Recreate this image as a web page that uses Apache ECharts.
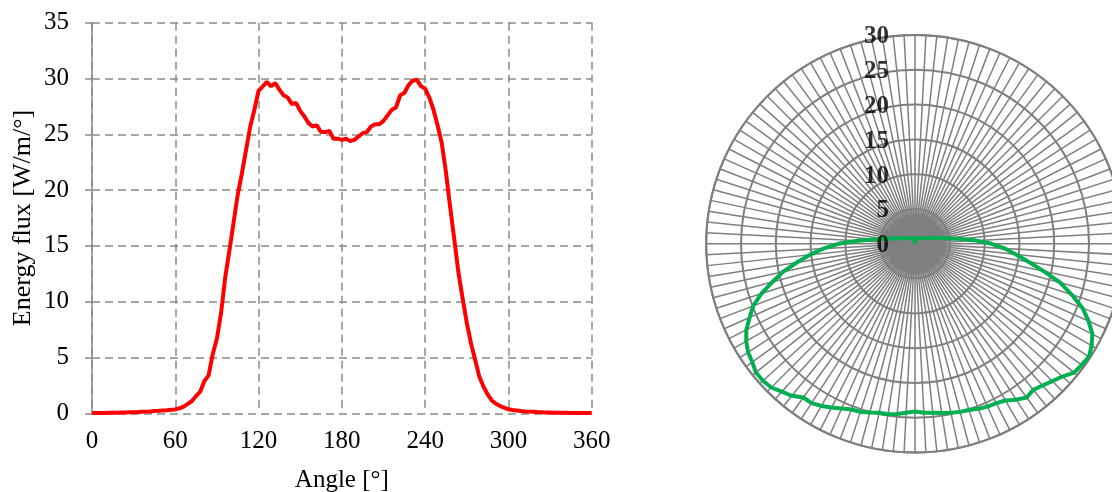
<!DOCTYPE html>
<html>
<head>
<meta charset="utf-8">
<script src="https://cdn.jsdelivr.net/npm/echarts@6/dist/echarts.min.js"></script>
<style>
  html, body { margin: 0; padding: 0; background: #ffffff; }
  #chart { width: 1112px; height: 492px; }
</style>
</head>
<body>
<div id="chart"></div>
<script>
// Sampling angles in degrees (3° steps, 0–360)
const angles = [
  0, 3, 6, 9, 12, 15, 18, 21, 24, 27, 30, 33, 36, 39, 42, 45, 48, 51, 54, 57,
  60, 63, 66, 69, 72, 75, 78, 81, 84, 87, 90, 93, 96, 99, 102, 105, 108, 111, 114, 117,
  120, 123, 126, 129, 132, 135, 138, 141, 144, 147, 150, 153, 156, 159, 162, 165, 168, 171, 174, 177,
  180, 183, 186, 189, 192, 195, 198, 201, 204, 207, 210, 213, 216, 219, 222, 225, 228, 231, 234, 237,
  240, 243, 246, 249, 252, 255, 258, 261, 264, 267, 270, 273, 276, 279, 282, 285, 288, 291, 294, 297,
  300, 303, 306, 309, 312, 315, 318, 321, 324, 327, 330, 333, 336, 339, 342, 345, 348, 351, 354, 357,
  360
];

// Energy flux per angle [W/m/°] (Cartesian plot)
const flux = [
  0.02, 0.02, 0.03, 0.03, 0.04, 0.05, 0.06, 0.07, 0.08, 0.09, 0.10, 0.11, 0.13, 0.15, 0.17, 0.20, 0.22, 0.25, 0.28, 0.32,
  0.35, 0.45, 0.60, 0.85, 1.10, 1.55, 1.95, 2.90, 3.40, 5.30, 6.70, 9.00, 12.2, 14.6, 17.1, 19.6, 21.5, 23.6, 25.7, 27.2,
  28.9, 29.3, 29.7, 29.3, 29.6, 29.0, 28.5, 28.3, 27.7, 27.8, 27.1, 26.6, 26.0, 25.7, 25.8, 25.2, 25.2, 25.3, 24.6, 24.6,
  24.5, 24.6, 24.4, 24.5, 24.8, 25.1, 25.2, 25.7, 25.9, 25.9, 26.2, 26.7, 27.2, 27.4, 28.5, 28.7, 29.4, 29.8, 29.9, 29.3,
  29.1, 28.3, 27.2, 25.8, 24.2, 21.6, 18.5, 15.6, 12.6, 10.3, 8.10, 6.30, 4.80, 3.30, 2.40, 1.70, 1.15, 0.85, 0.65, 0.50,
  0.36, 0.30, 0.25, 0.20, 0.17, 0.15, 0.13, 0.11, 0.10, 0.08, 0.07, 0.06, 0.05, 0.05, 0.04, 0.03, 0.03, 0.03, 0.02, 0.02,
  0.02
];

// Energy flux per angle [W/m/°] (polar plot, closed at 360° = 0°)
const polarFlux = [
  0.00, 0.50, 0.70, 0.80, 0.80, 0.85, 0.85, 0.90, 0.90, 0.90, 0.95, 1.00, 1.00, 1.05, 1.10, 1.15, 1.20, 1.30, 1.40, 1.50,
  1.65, 1.85, 2.05, 2.35, 2.70, 3.20, 3.90, 5.00, 6.60, 8.80, 11.0, 12.9, 14.6, 16.5, 18.9, 21.6, 23.7, 25.8, 27.3, 28.6,
  29.3, 29.8, 29.6, 29.4, 28.5, 27.9, 27.4, 27.0, 27.3, 26.7, 26.0, 25.7, 25.6, 25.4, 25.1, 25.0, 24.8, 24.6, 24.4, 24.3,
  24.1, 24.3, 24.6, 24.8, 24.8, 25.1, 25.4, 25.5, 25.9, 26.4, 26.9, 27.3, 27.3, 28.1, 28.6, 29.2, 29.4, 29.4, 28.9, 28.6,
  28.0, 27.2, 26.0, 24.9, 23.2, 21.2, 19.4, 17.2, 15.2, 13.2, 11.0, 8.20, 6.00, 4.60, 3.60, 2.90, 2.50, 2.20, 2.00, 1.80,
  1.65, 1.50, 1.40, 1.30, 1.20, 1.15, 1.10, 1.05, 1.00, 1.00, 0.95, 0.90, 0.90, 0.90, 0.85, 0.85, 0.80, 0.80, 0.70, 0.50,
  0.00
];

// Radial tick labels of the polar plot
const radialTicks = [0, 5, 10, 15, 20, 25, 30];

// Axis ranges and tick steps
const xRange = [0, 360], xStep = 60;
const yRange = [0, 35], yStep = 5;
const rRange = [0, 30], rStep = 5;
const spokeStep = 3;

const serif = '"Liberation Serif", "Times New Roman", serif';
const gridGray = '#8a8a8a';
const polarGray = '#7f7f7f';

const chart = echarts.init(document.getElementById('chart'), null, { renderer: 'canvas' });

chart.setOption({
  animation: false,
  backgroundColor: '#ffffff',
  grid: {
    left: 92, top: 22.7, width: 499.7, height: 390.6,
    containLabel: false, outerBoundsMode: 'none'
  },
  xAxis: {
    type: 'value',
    min: xRange[0], max: xRange[1], interval: xStep,
    name: 'Angle [°]',
    nameLocation: 'middle',
    nameGap: 55,
    nameTextStyle: { fontFamily: serif, fontSize: 25, color: '#000' },
    axisLine: { show: false },
    axisTick: { show: false },
    axisLabel: { fontFamily: serif, fontSize: 25, color: '#000', margin: 16 },
    splitLine: { show: true, lineStyle: { color: gridGray, width: 1.5, type: [8, 5] } }
  },
  yAxis: {
    type: 'value',
    min: yRange[0], max: yRange[1], interval: yStep,
    name: 'Energy flux [W/m/°]',
    nameLocation: 'middle',
    nameGap: 56,
    nameTextStyle: { fontFamily: serif, fontSize: 26, color: '#000' },
    axisLine: { show: true, lineStyle: { color: gridGray, width: 1.5 } },
    axisTick: { show: true, inside: false, length: 7, lineStyle: { color: gridGray, width: 1.5 } },
    axisLabel: { fontFamily: serif, fontSize: 25, color: '#000', margin: 23 },
    splitLine: { show: true, lineStyle: { color: gridGray, width: 1.5, type: [8, 5] } }
  },
  polar: { center: [915, 243.8], radius: 208.8 },
  angleAxis: {
    type: 'value',
    min: 0, max: 360, interval: spokeStep,
    startAngle: 90,
    clockwise: true,
    axisLine: { show: true, lineStyle: { color: polarGray, width: 2 } },
    axisTick: { show: false },
    axisLabel: { show: false },
    splitLine: { show: true, lineStyle: { color: polarGray, width: 1.5 } }
  },
  radiusAxis: {
    type: 'value',
    min: rRange[0], max: rRange[1], interval: rStep,
    axisLine: { show: false },
    axisTick: { show: false },
    axisLabel: { show: false },
    splitLine: { show: true, lineStyle: { color: polarGray, width: 2 } }
  },
  series: [
    {
      type: 'line',
      xAxisIndex: 0, yAxisIndex: 0,
      data: angles.map((a, i) => [a, flux[i]]),
      showSymbol: false,
      lineStyle: { color: '#ff0000', width: 4 },
      z: 3
    },
    {
      type: 'line',
      coordinateSystem: 'polar',
      data: angles.map((a, i) => [polarFlux[i], a]),
      showSymbol: false,
      lineStyle: { color: '#00b050', width: 4 },
      z: 3
    },
    {
      // radial scale labels, placed left of the 0° spoke
      type: 'scatter',
      coordinateSystem: 'polar',
      data: radialTicks.map(r => [r, 0]),
      symbolSize: 0,
      silent: true,
      z: 10,
      label: {
        show: true,
        position: 'left',
        distance: 26,
        offset: [0, 2],
        formatter: p => String(p.value[0]),
        fontFamily: serif, fontSize: 25, fontWeight: 'bold', color: '#000'
      }
    }
  ]
});
</script>
</body>
</html>
